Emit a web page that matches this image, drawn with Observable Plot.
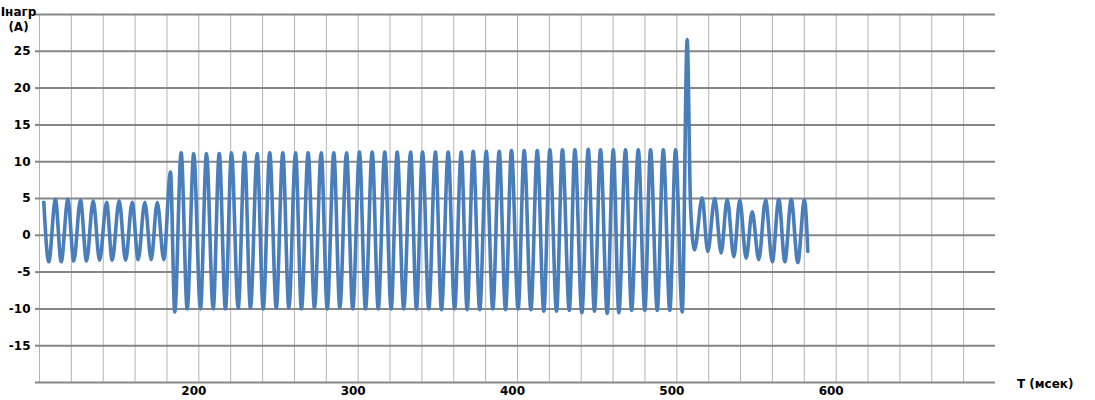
<!DOCTYPE html>
<html>
<head>
<meta charset="utf-8">
<script src="https://cdn.jsdelivr.net/npm/d3@7"></script>
<script src="https://cdn.jsdelivr.net/npm/@observablehq/plot@0.6"></script>
<style>
  html, body { margin: 0; padding: 0; background: #ffffff; }
  #chart { width: 1095px; height: 400px; }
</style>
</head>
<body>
<div id="chart"></div>
<script>
// Time of each read extremum (ms) and load current (A)
const timeMs = [
  102.7, 105.8, 110.0, 113.6, 117.8, 121.5, 125.7, 129.5, 133.7, 137.7,
  142.1, 145.6, 150.0, 154.0, 158.2, 161.9, 166.1, 170.1, 173.9, 178.0,
  182.2, 184.9, 188.9, 192.7, 196.8, 201.0, 204.8, 209.0, 212.8, 216.7,
  220.5, 224.7, 228.7, 232.4, 236.6, 240.4, 244.5, 248.6, 252.7, 256.5,
  260.7, 264.4, 268.6, 272.6, 276.8, 280.6, 284.7, 288.5, 292.7, 296.6,
  300.8, 304.6, 308.8, 312.6, 316.7, 320.7, 324.5, 328.6, 332.9, 336.6,
  340.4, 344.3, 348.5, 352.3, 356.5, 360.5, 364.7, 368.4, 372.2, 376.3,
  380.4, 384.5, 388.5, 392.5, 396.2, 400.4, 404.2, 408.4, 412.4, 416.5,
  420.3, 424.5, 428.2, 432.5, 436.0, 440.4, 444.4, 448.3, 452.1, 456.3,
  460.1, 463.6, 467.8, 471.6, 475.8, 479.9, 483.5, 487.7, 491.5, 495.6,
  499.2, 503.4, 506.5, 508.6, 511.1, 515.9, 519.4, 523.8, 527.8, 531.6,
  535.8, 539.5, 543.5, 547.3, 551.4, 555.7, 559.9, 564.0, 567.8, 571.8,
  575.9, 580.1, 582.2
];
const currentA = [
  4.5, -3.6, 4.9, -3.6, 4.9, -3.5, 4.8, -3.5, 4.7, -3.4,
  4.5, -3.4, 4.7, -3.4, 4.5, -3.3, 4.5, -3.3, 4.5, -3.3,
  8.6, -10.4, 11.2, -10.0, 11.1, -10.0, 11.1, -10.0, 11.1, -10.0,
  11.2, -9.9, 11.2, -9.9, 11.1, -10.0, 11.2, -9.9, 11.2, -9.9,
  11.2, -10.0, 11.2, -9.9, 11.2, -10.0, 11.2, -9.9, 11.2, -10.0,
  11.3, -10.0, 11.3, -10.0, 11.3, -10.0, 11.3, -10.0, 11.3, -10.0,
  11.3, -10.0, 11.3, -10.1, 11.3, -10.0, 11.3, -10.1, 11.4, -10.1,
  11.4, -10.0, 11.4, -10.1, 11.5, -10.0, 11.5, -10.1, 11.5, -10.3,
  11.6, -10.3, 11.6, -10.2, 11.6, -10.5, 11.7, -10.3, 11.6, -10.6,
  11.6, -10.5, 11.6, -10.2, 11.6, -10.2, 11.6, -10.2, 11.6, -10.2,
  11.6, -10.4, 26.6, 4.0, -2.0, 5.1, -2.2, 5.0, -2.4, 4.9,
  -2.9, 4.8, -3.1, 3.2, -3.3, 4.8, -3.6, 4.9, -3.6, 4.9,
  -3.7, 4.8, -2.2
];

// Axis ticks and labels
const yGridValues = [-20, -15, -10, -5, 0, 5, 10, 15, 20, 25, 30];
const yLabelValues = [-15, -10, -5, 0, 5, 10, 15, 20, 25];
const xGridValues = [100, 120, 140, 160, 180, 200, 220, 240, 260, 280, 300, 320, 340, 360, 380,
                     400, 420, 440, 460, 480, 500, 520, 540, 560, 580, 600, 620, 640, 660, 680];
const xLabelValues = [200, 300, 400, 500, 600];
const yTitle1 = "Iнагр";
const yTitle2 = "(A)";
const xTitle = "T (мсек)";

const data = timeMs.map((t, k) => ({t, i: currentA[k]}));

const FONT = "'DejaVu Sans', Verdana, sans-serif";

const chart = Plot.plot({
  width: 1095,
  height: 400,
  marginLeft: 39,
  marginRight: 100,
  marginTop: 14,
  marginBottom: 18,
  style: {fontFamily: FONT, fontSize: "12px", fontWeight: "bold", background: "#ffffff", color: "#000000", overflow: "visible"},
  x: {domain: [100, 700], axis: null},
  y: {domain: [-20, 30], axis: null},
  marks: [
    Plot.ruleX(xGridValues, {stroke: "#b4b4b4", strokeWidth: 1}),
    Plot.ruleY(yGridValues, {stroke: "#868686", strokeWidth: 2}),
    Plot.axisY({
      ticks: yGridValues,
      tickSize: 4,
      tickPadding: 5,
      stroke: "#868686",
      strokeWidth: 2,
      tickFormat: d => yLabelValues.includes(d) ? String(d) : "",
      label: null,
      fontSize: 12,
      fontWeight: "bold"
    }),
    Plot.axisX({
      ticks: xLabelValues,
      tickSize: 0,
      tickPadding: 4,
      dx: -5,
      tickFormat: d => String(d),
      label: null,
      fontSize: 12,
      fontWeight: "bold"
    }),
    Plot.line(data, {
      x: "t", y: "i",
      curve: "monotone-x",
      stroke: "#4a7ebb",
      strokeWidth: 3.6,
      strokeLinejoin: "round",
      strokeLinecap: "round"
    }),
    Plot.text([yTitle1], {frameAnchor: "top-left", dx: -21, dy: -2, textAnchor: "middle", lineAnchor: "middle", fontSize: 12, fontWeight: "bold", fill: "#000"}),
    Plot.text([yTitle2], {frameAnchor: "top-left", dx: -21, dy: 13, textAnchor: "middle", lineAnchor: "middle", fontSize: 12, fontWeight: "bold", fill: "#000"}),
    Plot.text([xTitle], {frameAnchor: "bottom-right", dx: 78, dy: 2, textAnchor: "end", lineAnchor: "middle", fontSize: 12, fontWeight: "bold", fill: "#000"})
  ]
});

document.getElementById("chart").appendChild(chart);
</script>
</body>
</html>
